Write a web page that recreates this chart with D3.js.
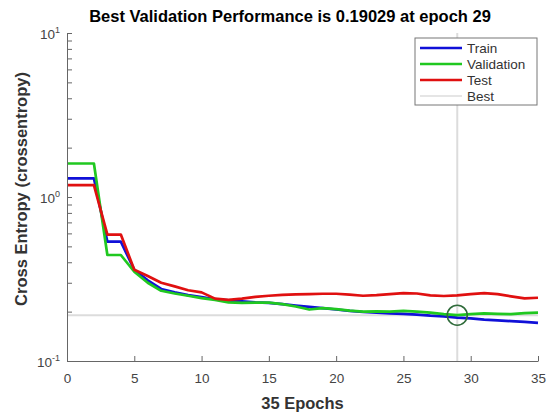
<!DOCTYPE html>
<html>
<head>
<meta charset="utf-8">
<script src="https://cdn.jsdelivr.net/npm/d3@7"></script>
<style>
	body { margin: 0; background: #fff; }
	svg { display: block; font-family: "Liberation Sans", Arial, sans-serif; }
</style>
</head>
<body>
<main></main>
<script>
// DATA
const epochs = d3.range(0, 36);
const train = [1.30, 1.30, 1.30, 0.534, 0.534, 0.36, 0.31, 0.275, 0.262, 0.252,
	0.245, 0.238, 0.234, 0.231, 0.228, 0.226, 0.222, 0.218, 0.214, 0.21,
	0.206, 0.202, 0.199, 0.197, 0.195, 0.194, 0.192, 0.189, 0.187, 0.184,
	0.182, 0.179, 0.177, 0.175, 0.173, 0.171];
const validation = [1.60, 1.60, 1.60, 0.443, 0.443, 0.35, 0.30, 0.268, 0.258, 0.25,
	0.242, 0.236, 0.228, 0.226, 0.227, 0.227, 0.222, 0.215, 0.206, 0.21,
	0.207, 0.203, 0.2, 0.201, 0.2, 0.202, 0.2, 0.197, 0.193, 0.19029,
	0.193, 0.195, 0.194, 0.193, 0.196, 0.197];
const test = [1.18, 1.18, 1.18, 0.59, 0.59, 0.36, 0.33, 0.30, 0.285, 0.27,
	0.262, 0.24, 0.236, 0.24, 0.246, 0.25, 0.253, 0.255, 0.256, 0.257,
	0.257, 0.254, 0.25, 0.252, 0.256, 0.259, 0.258, 0.251, 0.249, 0.251,
	0.256, 0.259, 0.256, 0.248, 0.241, 0.243];
const bestEpoch = 29;
const bestValue = 0.19029;
const xTicks = [0, 5, 10, 15, 20, 25, 30, 35];
const yMajorTicks = [0.1, 1, 10];
const yTickExponents = ["-1", "0", "1"];
const seriesNames = ["Train", "Validation", "Test", "Best"];
const seriesColors = ["#1010d8", "#20c820", "#e01010", "#dcdcdc"];

// CHART
function drawChart() {
	const w = 548;
	const h = 415;
	const margin = { top: 33, right: 10, bottom: 54, left: 67 };

	const svg = d3.select("main").append("svg")
		.attr("width", w)
		.attr("height", h);

	// scales
	const xScale = d3.scaleLinear()
		.domain([0, 35])
		.range([margin.left, w - margin.right]);
	const yScale = d3.scaleLog()
		.domain([0.1, 10])
		.range([h - margin.bottom, margin.top]);

	// best lines
	svg.append("line")
		.attr("x1", xScale(0)).attr("x2", xScale(35))
		.attr("y1", yScale(bestValue)).attr("y2", yScale(bestValue))
		.attr("stroke", seriesColors[3]).attr("stroke-width", 2);
	svg.append("line")
		.attr("x1", xScale(bestEpoch)).attr("x2", xScale(bestEpoch))
		.attr("y1", yScale(10)).attr("y2", yScale(0.1))
		.attr("stroke", seriesColors[3]).attr("stroke-width", 2);

	// lines
	const line = d3.line()
		.x((d, i) => xScale(epochs[i]))
		.y(d => yScale(d));
	[train, validation, test].forEach((s, i) => {
		svg.append("path")
			.datum(s)
			.attr("d", line)
			.attr("fill", "none")
			.attr("stroke", seriesColors[i])
			.attr("stroke-width", 2.7)
			.attr("stroke-linejoin", "round");
	});
	// best point circle
	svg.append("circle")
		.attr("cx", xScale(bestEpoch))
		.attr("cy", yScale(bestValue))
		.attr("r", 10)
		.attr("fill", "none")
		.attr("stroke", "#2f6b3a")
		.attr("stroke-width", 1.6);

	// axes
	const axisColor = "#666";
	const xAxis = d3.axisBottom(xScale)
		.tickValues(xTicks)
		.tickSizeInner(-5)
		.tickSizeOuter(0)
		.tickPadding(12);
	const gx = svg.append("g")
		.attr("transform", `translate(0, ${h - margin.bottom})`)
		.call(xAxis);
	gx.select(".domain").attr("stroke", axisColor);
	gx.selectAll(".tick line").attr("stroke", axisColor);
	gx.selectAll(".tick text")
		.attr("fill", "#444")
		.style("font-size", "13.5px")
		.style("font-family", "Liberation Sans, Arial, sans-serif");

	const minorTicks = [];
	[0.1, 1].forEach(dec => d3.range(1, 10).forEach(k => minorTicks.push(dec * k)));
	minorTicks.push(10);
	const yAxis = d3.axisLeft(yScale)
		.tickValues(minorTicks)
		.tickFormat("")
		.tickSizeInner(-5)
		.tickSizeOuter(0);
	const gy = svg.append("g")
		.attr("transform", `translate(${margin.left}, 0)`)
		.call(yAxis);
	gy.select(".domain").attr("stroke", axisColor);
	gy.selectAll(".tick line").attr("stroke", axisColor);

	// y tick labels with exponent
	yMajorTicks.forEach((v, i) => {
		const t = svg.append("text")
			.attr("x", margin.left - 7)
			.attr("y", yScale(v) + 6)
			.attr("text-anchor", "end")
			.attr("fill", "#444")
			.style("font-size", "13.5px");
		t.append("tspan").text("10");
		t.append("tspan")
			.attr("dy", -6)
			.style("font-size", "9px")
			.text(yTickExponents[i]);
	});

	// title and labels
	svg.append("text")
		.attr("x", 290)
		.attr("y", 22)
		.attr("text-anchor", "middle")
		.style("font-size", "16.5px")
		.style("font-weight", "bold")
		.text("Best Validation Performance is 0.19029 at epoch 29");
	svg.append("text")
		.attr("x", (xScale(0) + xScale(35)) / 2)
		.attr("y", 409)
		.attr("text-anchor", "middle")
		.attr("fill", "#333")
		.style("font-size", "16.5px")
		.style("font-weight", "bold")
		.text("35 Epochs");
	svg.append("text")
		.attr("transform", `translate(27, 189) rotate(-90)`)
		.attr("text-anchor", "middle")
		.attr("fill", "#333")
		.style("font-size", "16.5px")
		.style("font-weight", "bold")
		.text("Cross Entropy  (crossentropy)");

	// legend
	const lg = svg.append("g").attr("transform", "translate(415, 38)");
	lg.append("rect")
		.attr("width", 122).attr("height", 67)
		.attr("fill", "#fff")
		.attr("stroke", "#777")
		.attr("stroke-width", 1);
	seriesNames.forEach((name, i) => {
		const y = 10 + i * 16;
		lg.append("line")
			.attr("x1", 5).attr("x2", 47)
			.attr("y1", y).attr("y2", y)
			.attr("stroke", seriesColors[i])
			.attr("stroke-width", i < 3 ? 2.7 : 1.5);
		lg.append("text")
			.attr("x", 52).attr("y", y + 5)
			.attr("fill", "#333")
			.style("font-size", "13.5px")
			.text(name);
	});
}

document.addEventListener("DOMContentLoaded", () => {
	drawChart();
});
</script>
</body>
</html>
